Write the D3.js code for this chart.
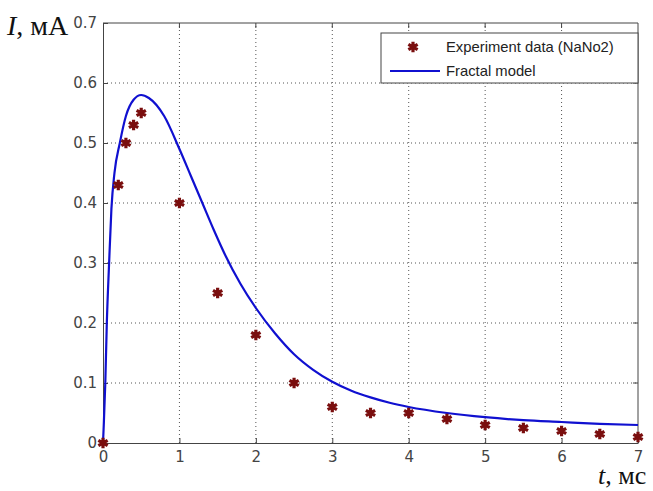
<!DOCTYPE html>
<html lang="ru">
<head>
<meta charset="UTF-8">
<title>Fractal model</title>
<script src="https://cdn.jsdelivr.net/npm/d3@7"></script>
<style>
  body { margin: 0; background: #fff; }
  .tick text { font-family: "DejaVu Sans", sans-serif; font-size: 15px; fill: #444; }
</style>
</head>
<body>
<div id="grafica"></div>
<script>
// experimental points
expT = [0, 0.2, 0.3, 0.4, 0.5, 1, 1.5, 2, 2.5, 3, 3.5, 4, 4.5, 5, 5.5, 6, 6.5, 7]
expI = [0, 0.43, 0.5, 0.53, 0.55, 0.4, 0.25, 0.18, 0.1, 0.06, 0.05, 0.05, 0.04, 0.03, 0.025, 0.02, 0.015, 0.01]

// fractal model curve
modT = [0, 0.01, 0.03, 0.05, 0.08, 0.11, 0.15, 0.22, 0.3, 0.4, 0.5, 0.6, 0.8, 1.0, 1.15, 1.3, 1.45, 1.6, 1.8, 2.0, 2.25, 2.5, 2.75, 3.0, 3.25, 3.5, 3.75, 4, 4.5, 5, 5.5, 6, 6.5, 7]
modI = [0, 0.03, 0.1, 0.2, 0.3, 0.39, 0.45, 0.5, 0.545, 0.572, 0.58, 0.575, 0.545, 0.49, 0.445, 0.4, 0.355, 0.313, 0.265, 0.225, 0.183, 0.148, 0.122, 0.102, 0.087, 0.076, 0.067, 0.06, 0.05, 0.043, 0.038, 0.035, 0.032, 0.03]

xTicks = [0, 1, 2, 3, 4, 5, 6, 7]
yTicks = [0, 0.1, 0.2, 0.3, 0.4, 0.5, 0.6, 0.7]

ancho = 653
alto = 491
m = {left: 103, right: 15, top: 23, bottom: 48}

svg = d3.select('#grafica').append('svg')
  .attr('width', ancho)
  .attr('height', alto)

x = d3.scaleLinear().domain([0, 7]).range([m.left, ancho - m.right])
y = d3.scaleLinear().domain([0, 0.7]).range([alto - m.bottom, m.top])

// grid
svg.append('g').selectAll('line.gx')
  .data(xTicks.slice(1, -1)).enter().append('line')
  .attr('x1', d => x(d)).attr('x2', d => x(d))
  .attr('y1', y(0)).attr('y2', y(0.7))
  .attr('stroke', '#555').attr('stroke-width', 1).attr('stroke-dasharray', '1,3')
svg.append('g').selectAll('line.gy')
  .data(yTicks.slice(1, -1)).enter().append('line')
  .attr('y1', d => y(d)).attr('y2', d => y(d))
  .attr('x1', x(0)).attr('x2', x(7))
  .attr('stroke', '#555').attr('stroke-width', 1).attr('stroke-dasharray', '1,3')

// axes
xAxis = svg.append('g')
  .attr('transform', 'translate(0,' + y(0) + ')')
  .call(d3.axisBottom(x).tickValues(xTicks).tickFormat(d3.format('d')).tickSizeInner(-5).tickSizeOuter(0).tickPadding(8))
yAxis = svg.append('g')
  .attr('transform', 'translate(' + x(0) + ',0)')
  .call(d3.axisLeft(y).tickValues(yTicks).tickFormat(d => d === 0 ? '0' : d3.format('.1f')(d)).tickSizeInner(-5).tickSizeOuter(0).tickPadding(6))
svg.selectAll('.domain').attr('stroke', '#444')
svg.selectAll('.tick line').attr('stroke', '#444')

// top & right border
svg.append('path')
  .attr('d', 'M' + x(0) + ',' + y(0.7) + 'H' + x(7) + 'V' + y(0))
  .attr('fill', 'none').attr('stroke', '#444')
svg.append('g').selectAll('line')
  .data(xTicks.slice(1, -1)).enter().append('line')
  .attr('x1', d => x(d)).attr('x2', d => x(d))
  .attr('y1', y(0.7)).attr('y2', y(0.7) + 5).attr('stroke', '#444')
svg.append('g').selectAll('line')
  .data(yTicks.slice(1, -1)).enter().append('line')
  .attr('y1', d => y(d)).attr('y2', d => y(d))
  .attr('x1', x(7)).attr('x2', x(7) - 5).attr('stroke', '#444')

// model line
line = d3.line()
  .x((d, i) => x(modT[i]))
  .y(d => y(d))
  .curve(d3.curveMonotoneX)
svg.append('path')
  .datum(modI)
  .attr('d', line)
  .attr('fill', 'none')
  .attr('stroke', '#1010d0')
  .attr('stroke-width', 2.2)

// experiment markers
star = d3.symbol().type(d3.symbolAsterisk).size(80)
svg.append('g').selectAll('path')
  .data(expI).enter().append('path')
  .attr('d', star)
  .attr('transform', (d, i) => 'translate(' + x(expT[i]) + ',' + y(d) + ')')
  .attr('fill', 'none')
  .attr('stroke', '#7a0e0e')
  .attr('stroke-width', 3.2)

// legend
lg = svg.append('g')
lg.append('rect')
  .attr('x', 381).attr('y', 33).attr('width', 257).attr('height', 50)
  .attr('fill', '#fff').attr('stroke', '#444')
lg.append('path')
  .attr('d', star)
  .attr('transform', 'translate(413,47)')
  .attr('fill', 'none').attr('stroke', '#7a0e0e').attr('stroke-width', 3.2)
lg.append('line')
  .attr('x1', 390).attr('x2', 440).attr('y1', 71).attr('y2', 71)
  .attr('stroke', '#1010d0').attr('stroke-width', 2.2)
lg.selectAll('text')
  .data(['Experiment data (NaNo2)', 'Fractal model']).enter().append('text')
  .attr('x', 446)
  .attr('y', (d, i) => 52 + i * 24)
  .attr('font-family', 'Liberation Sans, Arial, sans-serif')
  .attr('font-size', 14.8)
  .attr('fill', '#222')
  .text(d => d)

// axis titles
yt = svg.append('text')
  .attr('x', 7).attr('y', 35)
  .attr('font-family', 'Liberation Serif, Times New Roman, serif')
  .attr('font-size', 28)
  .attr('fill', '#111')
yt.append('tspan').attr('font-style', 'italic').text('I')
yt.append('tspan').text(', мА')

xt = svg.append('text')
  .attr('x', 598).attr('y', 484)
  .attr('font-family', 'Liberation Serif, Times New Roman, serif')
  .attr('font-size', 26)
  .attr('fill', '#111')
xt.append('tspan').attr('font-style', 'italic').text('t')
xt.append('tspan').text(', мс')
</script>
</body>
</html>
